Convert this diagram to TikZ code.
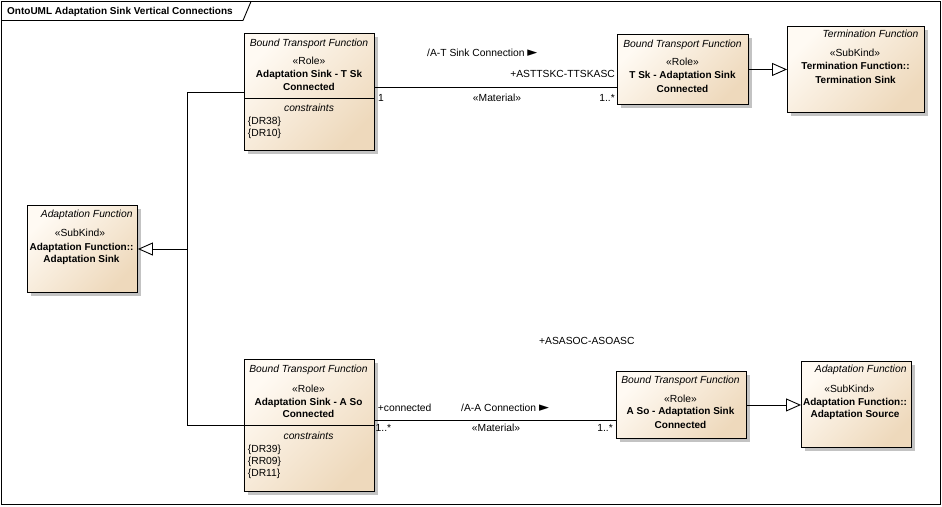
\documentclass[tikz,border=0pt]{standalone}
\usepackage{fontspec}
\setmainfont{Liberation Sans}
\newfontfamily\symfont{DejaVu Sans}
\usetikzlibrary{arrows.meta,shadows}
\definecolor{boxlight}{RGB}{255,250,243}
\definecolor{boxdark}{RGB}{238,217,188}
\definecolor{shadowgray}{RGB}{195,195,195}
\begin{document}
\begin{tikzpicture}[x=1pt,y=-1pt,
  umlbox/.style={draw=black, line width=0.9pt, anchor=north west, inner sep=0pt,
    top color=boxlight, bottom color=boxdark, shading angle=45,
    drop shadow={shadow xshift=4pt, shadow yshift=-4pt, fill=shadowgray, opacity=1}},
  txt/.style={inner sep=0pt, font=\fontsize{10.3}{12}\selectfont},
  itxt/.style={inner sep=0pt, font=\fontsize{10.3}{12}\selectfont\itshape},
  btxt/.style={inner sep=0pt, font=\fontsize{10}{12}\selectfont\bfseries},
  conn/.style={line width=0.9pt, draw=black},
  gen/.style={conn, -{Triangle[length=15pt,width=13pt,fill=white,line width=0.9pt]}}
]
\useasboundingbox (0,0) rectangle (942,506);
\fill[white] (0,0) rectangle (942,506);

% frame
\draw[line width=0.9pt] (1.5,1.5) rectangle (940.5,504.5);
\draw[line width=0.9pt] (1.5,20.5) -- (243,20.5) -- (251,1.5);
\node[btxt, anchor=base west] (title) at (7,14) {OntoUML Adaptation Sink Vertical Connections};

% boxes
\node[umlbox, minimum width=130pt, minimum height=117pt] (a) at (244,33) {};
\node[umlbox, minimum width=131pt, minimum height=70pt] (b) at (617,34) {};
\node[umlbox, minimum width=137pt, minimum height=86pt] (c) at (787,26) {};
\node[umlbox, minimum width=110pt, minimum height=87pt] (d) at (27,205) {};
\node[umlbox, minimum width=130pt, minimum height=132pt] (e) at (243.5,359) {};
\node[umlbox, minimum width=130pt, minimum height=67pt] (f) at (615.5,371) {};
\node[umlbox, minimum width=110pt, minimum height=86pt] (g) at (801,361) {};

% compartment dividers
\draw[conn] (a.west |- 0,98) -- (a.east |- 0,98);
\draw[conn] (e.west |- 0,425) -- (e.east |- 0,425);

% box A text
\node[itxt, anchor=base] (a1) at (309,46) {Bound Transport Function};
\node[txt, anchor=base] (a2) at (309,64) {«Role»};
\node[btxt, anchor=base] (a3) at (309,77) {Adaptation Sink - T Sk};
\node[btxt, anchor=base] (a4) at (309,90) {Connected};
\node[itxt, anchor=base] (a5) at (309,111.7) {constraints};
\node[txt, anchor=base west] (a6) at (247.7,124) {\{DR38\}};
\node[txt, anchor=base west] (a7) at (247.7,136.5) {\{DR10\}};

% box B text
\node[itxt, anchor=base] (b1) at (682.5,47) {Bound Transport Function};
\node[txt, anchor=base] (b2) at (682.5,65.7) {«Role»};
\node[btxt, anchor=base] (b3) at (682.5,78.8) {T Sk - Adaptation Sink};
\node[btxt, anchor=base] (b4) at (682.5,92) {Connected};

% box C text
\node[itxt, anchor=base east] (c1) at (918.5,37.5) {Termination Function};
\node[txt, anchor=base] (c2) at (855,56.5) {«SubKind»};
\node[btxt, anchor=base] (c3) at (855.5,69.5) {Termination Function::};
\node[btxt, anchor=base] (c4) at (855.5,83) {Termination Sink};

% box D text
\node[itxt, anchor=base east] (d1) at (132.7,217.3) {Adaptation Function};
\node[txt, anchor=base] (d2) at (80,236.7) {«SubKind»};
\node[btxt, anchor=base] (d3) at (81.5,250) {Adaptation Function::};
\node[btxt, anchor=base] (d4) at (81.5,262.7) {Adaptation Sink};

% box E text
\node[itxt, anchor=base] (e1) at (308.5,372) {Bound Transport Function};
\node[txt, anchor=base] (e2) at (308.5,392.5) {«Role»};
\node[btxt, anchor=base] (e3) at (308.5,405) {Adaptation Sink - A So};
\node[btxt, anchor=base] (e4) at (308.5,417) {Connected};
\node[itxt, anchor=base] (e5) at (308.5,439.3) {constraints};
\node[txt, anchor=base west] (e6) at (247.7,452) {\{DR39\}};
\node[txt, anchor=base west] (e7) at (247.7,464.3) {\{RR09\}};
\node[txt, anchor=base west] (e8) at (247.7,476.7) {\{DR11\}};

% box F text
\node[itxt, anchor=base] (f1) at (680.5,383.3) {Bound Transport Function};
\node[txt, anchor=base] (f2) at (680.5,402) {«Role»};
\node[btxt, anchor=base] (f3) at (680.5,414.8) {A So - Adaptation Sink};
\node[btxt, anchor=base] (f4) at (680.5,428) {Connected};

% box G text
\node[itxt, anchor=base east] (g1) at (906.7,372.7) {Adaptation Function};
\node[txt, anchor=base] (g2) at (849.5,392.3) {«SubKind»};
\node[btxt, anchor=base] (g3) at (855,405) {Adaptation Function::};
\node[btxt, anchor=base] (g4) at (855,417.7) {Adaptation Source};

% associations
\draw[conn] (a.east |- 0,87.5) -- (b.west |- 0,87.5);
\draw[conn] (e.east |- 0,420) -- (f.west |- 0,420);

% generalizations
\coordinate (j) at (187,249);
\draw[conn] (a.west) -| (j);
\draw[conn] (e.west) -| (j);
\draw[gen] (j) -- (d.east |- j);
\draw[gen] (b.east) -- (c.west |- b.east);
\draw[gen] (f.east) -- (g.west |- f.east);

% association labels (top)
\node[txt, anchor=base west] (l1) at (427,56.7) {/A-T Sink Connection {\symfont\fontsize{13}{13}\selectfont ►}};
\node[txt, anchor=base east] (l2) at (615,77.3) {+ASTTSKC-TTSKASC};
\node[txt, anchor=base west] (l3) at (378,101.7) {1};
\node[txt, anchor=base] (l4) at (497,101.7) {«Material»};
\node[txt, anchor=base east] (l5) at (615,101.7) {1..*};

% association labels (bottom)
\node[txt, anchor=base west] (m1) at (539,344) {+ASASOC-ASOASC};
\node[txt, anchor=base west] (m2) at (377.7,411.7) {+connected};
\node[txt, anchor=base west] (m3) at (461,411) {/A-A Connection {\symfont\fontsize{13}{13}\selectfont ►}};
\node[txt, anchor=base west] (m4) at (375.5,431.7) {1..*};
\node[txt, anchor=base] (m5) at (496,431.7) {«Material»};
\node[txt, anchor=base east] (m6) at (613,431.7) {1..*};
\end{tikzpicture}
\end{document}
